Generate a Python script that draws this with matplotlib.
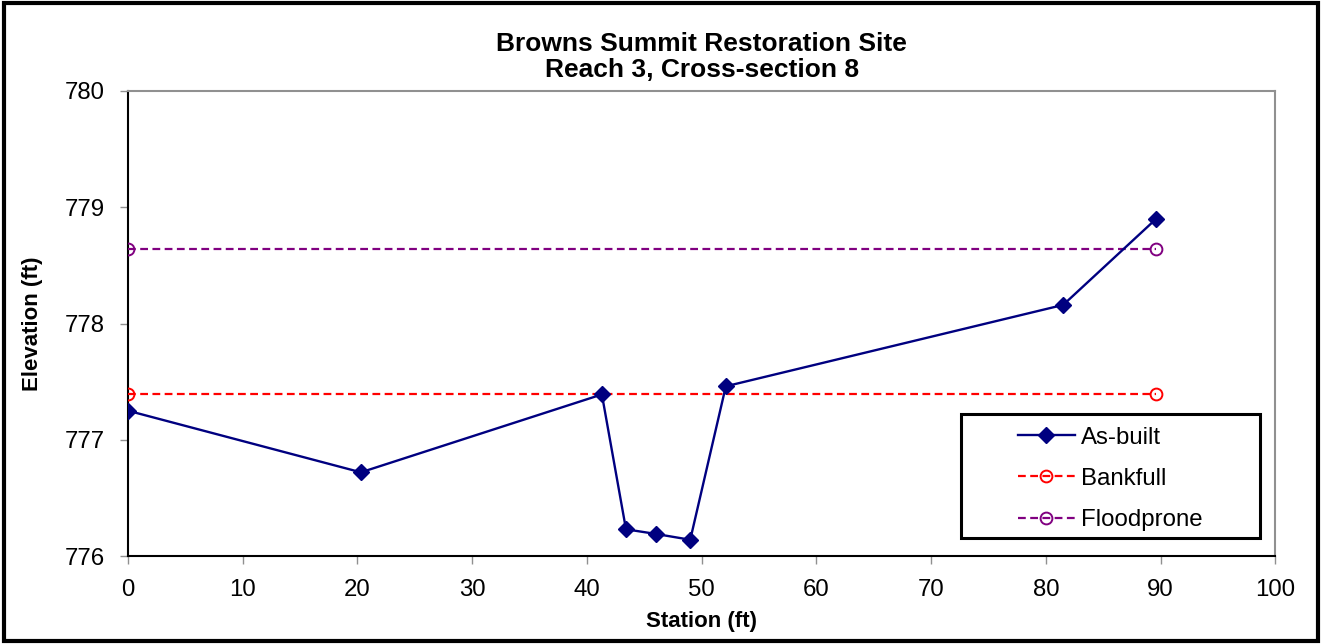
import matplotlib.pyplot as plt
from matplotlib.patches import Rectangle

plt.rcParams['font.family'] = ['Liberation Sans', 'DejaVu Sans']

# cross-section survey
station = [0, 20.3, 41.3, 43.4, 46.0, 49.0, 52.1, 81.5, 89.6]
elevation = [777.25, 776.72, 777.39, 776.23, 776.19, 776.14, 777.46, 778.16, 778.90]

bankfull_x = [0, 89.6]
bankfull_y = [777.39, 777.39]
floodprone_x = [0, 89.6]
floodprone_y = [778.64, 778.64]

x_ticks = [0, 10, 20, 30, 40, 50, 60, 70, 80, 90, 100]
y_ticks = [776, 777, 778, 779, 780]

fig = plt.figure(figsize=(13.22, 6.44), dpi=100)
ax = fig.add_axes([0.0968, 0.1366, 0.868, 0.7221])

ax.plot(station, elevation, color='#000080', lw=1.7, marker='D', ms=8,
        label='As-built', zorder=4)
ax.plot(bankfull_x, bankfull_y, color='#FF0000', lw=1.6, ls=(0, (3.5, 2)),
        marker='o', ms=8.5, mfc='none', mew=1.4, label='Bankfull', zorder=3)
ax.plot(floodprone_x, floodprone_y, color='#800080', lw=1.6, ls=(0, (3.5, 2)),
        marker='o', ms=8.5, mfc='none', mew=1.4, label='Floodprone', zorder=3)

ax.set_xlim(0, 100)
ax.set_ylim(776, 780)
ax.set_xticks(x_ticks)
ax.set_yticks(y_ticks)
ax.tick_params(direction='out', length=6, width=1, color='#909090',
               labelsize=17.3, pad=10.5)

for side in ['top', 'right']:
    ax.spines[side].set_color('#909090')
    ax.spines[side].set_linewidth(1.5)
for side in ['left', 'bottom']:
    ax.spines[side].set_color('black')
    ax.spines[side].set_linewidth(1.5)

ax.set_xlabel('Station (ft)', fontsize=16, fontweight='bold', labelpad=7)
ax.set_ylabel('Elevation (ft)', fontsize=16, fontweight='bold', labelpad=16)
ax.set_title('Browns Summit Restoration Site\nReach 3, Cross-section 8',
             fontsize=19, fontweight='bold', pad=10, linespacing=1.12)

leg = ax.legend(loc='center', bbox_to_anchor=(0.856, 0.166),
                frameon=False, fontsize=17.3, handlelength=2.4,
                labelspacing=0.8, handletextpad=0.25)
ax.add_patch(Rectangle((0.7259, 0.038), 0.2603, 0.2667, transform=ax.transAxes,
                       fill=False, edgecolor='black', lw=2.2, zorder=6,
                       clip_on=False))

fig.patches.append(Rectangle((0.003, 0.005), 0.994, 0.99, transform=fig.transFigure,
                             fill=False, edgecolor='black', lw=3))

fig.savefig('out.png', dpi=100)
